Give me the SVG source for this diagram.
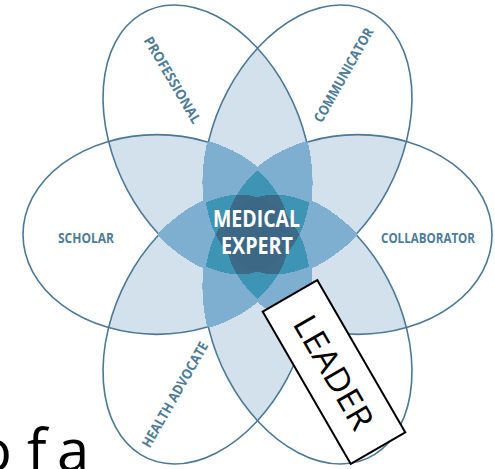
<svg xmlns="http://www.w3.org/2000/svg" xmlns:xlink="http://www.w3.org/1999/xlink" width="495" height="469" viewBox="0 0 495 469">
<style>
.pe{vector-effect:non-scaling-stroke}
.lbl{font-family:"Open Sans","Liberation Sans",sans-serif;font-weight:bold;font-size:14px;fill:#4d7c98;text-anchor:middle}
.core{font-family:"Open Sans","Liberation Sans",sans-serif;font-weight:bold;font-size:23px;fill:#ffffff;text-anchor:middle}
.lead{font-family:"Open Sans","Liberation Sans",sans-serif;font-size:33px;fill:#000;text-anchor:middle}
.big{font-family:"Open Sans","Liberation Sans",sans-serif;font-size:58px;fill:#000}
</style>
<defs>
<g id="petalShapes" transform="translate(257.5,234.5) scale(1,1.083)">
<ellipse class="pe" rx="134" ry="92.2" transform="rotate(0) translate(100.5,0)"/>
<ellipse class="pe" rx="134" ry="92.2" transform="rotate(60) translate(100.5,0)"/>
<ellipse class="pe" rx="134" ry="92.2" transform="rotate(120) translate(100.5,0)"/>
<ellipse class="pe" rx="134" ry="92.2" transform="rotate(180) translate(100.5,0)"/>
<ellipse class="pe" rx="134" ry="92.2" transform="rotate(240) translate(100.5,0)"/>
<ellipse class="pe" rx="134" ry="92.2" transform="rotate(300) translate(100.5,0)"/>
</g>
<filter id="fa" filterUnits="userSpaceOnUse" x="0" y="0" width="495" height="469" color-interpolation-filters="sRGB">
<feColorMatrix in="SourceGraphic" type="matrix" values="0 0 0 1 0  0 0 0 1 0  0 0 0 1 0  0 0 0 0 1"/>
<feComponentTransfer>
<feFuncR type="discrete" tableValues="1 1 1 1 1 1 1 1 1 1 1 1 .831 .831 .831 .831 .831 .831 .498 .498 .498 .498 .498 .243 .243 .243 .243 .243 .243 .243 .239 .239 .239 .239 .239 .239 .239 .239 .239 .239"/>
<feFuncG type="discrete" tableValues="1 1 1 1 1 1 1 1 1 1 1 1 .886 .886 .886 .886 .886 .886 .690 .690 .690 .690 .690 .584 .584 .584 .584 .416 .416 .416 .408 .408 .408 .408 .408 .408 .408 .408 .408 .408"/>
<feFuncB type="discrete" tableValues="1 1 1 1 1 1 1 1 1 1 1 1 .933 .933 .933 .933 .933 .933 .816 .816 .816 .816 .816 .710 .710 .710 .710 .533 .533 .533 .525 .525 .525 .525 .525 .525 .525 .525 .525 .525"/>
</feComponentTransfer>
</filter>
<filter id="fb" filterUnits="userSpaceOnUse" x="0" y="0" width="495" height="469" color-interpolation-filters="sRGB">
<feColorMatrix in="SourceGraphic" type="matrix" values="0 0 0 1 0  0 0 0 1 0  0 0 0 1 0  0 0 0 0 1"/>
<feComponentTransfer>
<feFuncR type="discrete" tableValues="0 0 0 0 0 0 0 0 0 0 0 0 0 0 0 0 0 0 .498 .498 .498 .498 .498 .243 .243 .243 .243 .243 .243 .243 .239 .239 .239 .239 .239 .239 .239 .239 .239 .239"/>
<feFuncG type="discrete" tableValues="0 0 0 0 0 0 0 0 0 0 0 0 0 0 0 0 0 0 .690 .690 .690 .690 .690 .584 .584 .584 .584 .416 .416 .416 .408 .408 .408 .408 .408 .408 .408 .408 .408 .408"/>
<feFuncB type="discrete" tableValues="0 0 0 0 0 0 0 0 0 0 0 0 0 0 0 0 0 0 .816 .816 .816 .816 .816 .710 .710 .710 .710 .533 .533 .533 .525 .525 .525 .525 .525 .525 .525 .525 .525 .525"/>
</feComponentTransfer>
<feColorMatrix type="matrix" values="1 0 0 0 0  0 1 0 0 0  0 0 1 0 0  0 0 4 0 0"/>
<feMorphology operator="dilate" radius="1"/>
</filter>
</defs>
<rect width="495" height="469" fill="#ffffff"/>
<g id="flower">
<use xlink:href="#petalShapes" href="#petalShapes" fill="#000" fill-opacity="0.22" filter="url(#fa)"/>
<use xlink:href="#petalShapes" href="#petalShapes" fill="none" stroke="#4a7896" stroke-width="1.6"/>
<use xlink:href="#petalShapes" href="#petalShapes" fill="#000" fill-opacity="0.22" filter="url(#fb)"/>
</g>
<g id="connectors"/>
<g id="professional"><text class="lbl" transform="translate(172.5,80) rotate(59.5)" y="5" textLength="98" lengthAdjust="spacingAndGlyphs">PROFESSIONAL</text></g>
<g id="communicator"><text class="lbl" transform="translate(343.5,75) rotate(-60.5)" y="5" textLength="106" lengthAdjust="spacingAndGlyphs">COMMUNICATOR</text></g>
<g id="scholar"><text class="lbl" x="86" y="243" textLength="56" lengthAdjust="spacingAndGlyphs">SCHOLAR</text></g>
<g id="collaborator"><text class="lbl" x="428" y="243" textLength="94" lengthAdjust="spacingAndGlyphs">COLLABORATOR</text></g>
<g id="health-advocate"><text class="lbl" transform="translate(175,394.5) rotate(-60.3)" y="5" textLength="119" lengthAdjust="spacingAndGlyphs">HEALTH ADVOCATE</text></g>
<g id="medical-expert">
<text class="core" x="256.5" y="227" textLength="87" lengthAdjust="spacingAndGlyphs">MEDICAL</text>
<text class="core" x="257" y="253.5" textLength="72" lengthAdjust="spacingAndGlyphs">EXPERT</text>
</g>
<g id="leader" transform="translate(334,372) rotate(60)">
<rect x="-88" y="-31.5" width="176" height="63" fill="#ffffff" stroke="#000" stroke-width="2"/>
<text class="lead" x="0" y="12" textLength="126" lengthAdjust="spacingAndGlyphs">LEADER</text>
</g>
<text class="big" x="-23 27 43 57" y="471">of a</text>
</svg>
